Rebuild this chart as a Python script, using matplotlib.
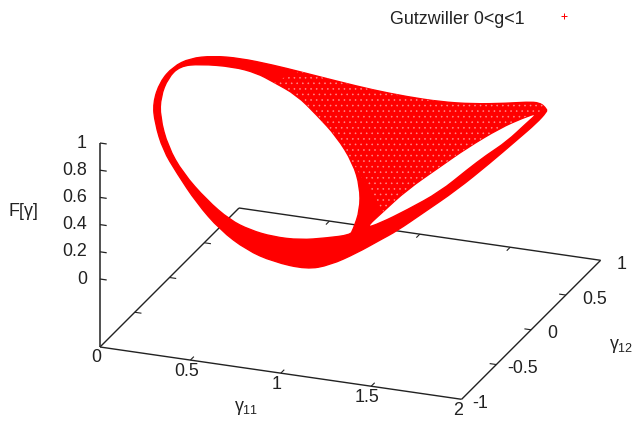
import numpy as np
import matplotlib
matplotlib.use('Agg')
import matplotlib.pyplot as plt
from matplotlib.path import Path
from matplotlib.patches import PathPatch

plt.rcParams['font.family'] = ['Liberation Sans', 'DejaVu Sans']
plt.rcParams['mathtext.fontset'] = 'custom'
plt.rcParams['mathtext.rm'] = 'Liberation Sans'
plt.rcParams['mathtext.it'] = 'Liberation Sans'
plt.rcParams['hatch.linewidth'] = 0.4

# outer edge of the surface
outer_g11 = [1.948, 1.842, 1.703, 1.542, 1.314, 1.116, 0.929, 0.753, 0.593, 0.410, 0.300, 0.175, 0.083, 0.027,
             0.000, 0.013, 0.047, 0.100, 0.189, 0.323, 0.478, 0.638, 0.804, 0.957, 1.139, 1.259, 1.389, 1.498,
             1.572, 1.683, 1.811, 1.923, 1.986, 1.996, 1.971]
outer_g12 = [0.36, 0.54, 0.71, 0.84, 0.95, 0.99, 0.997, 0.97, 0.91, 0.81, 0.71, 0.56, 0.41, 0.225,
             0.05, -0.17, -0.36, -0.47, -0.585, -0.736, -0.853, -0.932, -0.98, -0.999, -0.99, -0.966, -0.92, -0.868,
             -0.82, -0.73, -0.58, -0.39, -0.17, 0.09, 0.30]
outer_F = [0.929, 0.864, 0.755, 0.648, 0.543, 0.501, 0.499, 0.528, 0.587, 0.678, 0.757, 0.860, 0.935, 1.002,
           1.024, 1.029, 0.976, 0.896, 0.773, 0.707, 0.576, 0.449, 0.357, 0.311, 0.285, 0.327, 0.417, 0.507,
           0.563, 0.671, 0.788, 0.911, 0.979, 0.974, 0.944]

# edge of the big opening
hole_g11 = [0.019, 0.053, 0.140, 0.232, 0.322, 0.473, 0.622, 0.771, 0.919, 1.015, 1.073, 1.092, 1.095,
            1.100, 0.972, 0.841, 0.733, 0.642, 0.525, 0.351, 0.203, 0.082, 0.028, 0.011]
hole_g12 = [0.10, 0.30, 0.55, 0.65, 0.65, 0.60, 0.50, 0.40, 0.25, 0.10, -0.05, -0.20, -0.25,
            -0.60, -0.65, -0.70, -0.75, -0.80, -0.83, -0.72, -0.55, -0.35, -0.20, -0.05]
hole_F = [1.007, 0.926, 0.796, 0.716, 0.669, 0.626, 0.559, 0.479, 0.390, 0.311, 0.229, 0.162, 0.151,
          0.309, 0.295, 0.319, 0.374, 0.455, 0.595, 0.704, 0.782, 0.876, 0.937, 0.995]

# edge of the narrow opening near the tip
lens_g11 = [1.925, 1.937, 1.903, 1.869, 1.798, 1.688, 1.543, 1.414, 1.331, 1.354, 1.427, 1.573, 1.682, 1.809, 1.878]
lens_g12 = [0.30, 0.10, -0.10, -0.30, -0.40, -0.50, -0.60, -0.65, -0.65, -0.45, -0.30, -0.20, -0.10, 0.05, 0.20]
lens_F = [0.929, 0.957, 0.915, 0.913, 0.840, 0.710, 0.599, 0.503, 0.450, 0.474, 0.571, 0.719, 0.826, 0.921, 0.932]

x_ticks = [0, 0.5, 1, 1.5, 2]
y_ticks = [-1, -0.5, 0, 0.5, 1]
z_ticks = [0, 0.2, 0.4, 0.6, 0.8, 1]
x_labels = ['0', '0.5', '1', '1.5', '2']
y_labels = ['-1', '-0.5', '0', '0.5', '1']
z_labels = ['0', '0.2', '0.4', '0.6', '0.8', '1']
z_base = -0.5


# gnuplot style fixed view, gives pixel position on the figure
def project(g11, g12, f):
    g11 = np.asarray(g11, dtype=float)
    u = np.asarray(g12, dtype=float) + 1
    f = np.asarray(f, dtype=float)
    sx = 100 + 180.8 * g11 + 69.5 * u
    sy = 279 + 26.15 * g11 - 69.5 * u - 136 * f
    return sx, sy


# closed smooth outline through the midpoints of the read points
def smooth_loop(pts):
    verts = [(pts[-1] + pts[0]) / 2]
    codes = [Path.MOVETO]
    for i in range(len(pts)):
        verts += [pts[i], (pts[i] + pts[(i + 1) % len(pts)]) / 2]
        codes += [Path.CURVE3, Path.CURVE3]
    return verts, codes


fig = plt.figure(figsize=(6.32, 4.21), dpi=100)
ax = fig.add_axes([0, 0, 1, 1])
ax.set_xlim(0, 632)
ax.set_ylim(421, 0)
ax.axis('off')

ink = '#222222'


def line3(a, b, lw=1.0):
    sx, sy = project([a[0], b[0]], [a[1], b[1]], [a[2], b[2]])
    ax.plot(sx, sy, color=ink, lw=lw, solid_capstyle='butt', zorder=1)


# base frame
line3((0, -1, z_base), (2, -1, z_base))
line3((2, -1, z_base), (2, 1, z_base))
line3((2, 1, z_base), (0, 1, z_base))
line3((0, 1, z_base), (0, -1, z_base))
line3((0, -1, z_base), (0, -1, 1), lw=1.1)

for t in x_ticks[1:-1]:
    line3((t, -1, z_base), (t, -0.95, z_base), lw=0.8)
    line3((t, 1, z_base), (t, 0.95, z_base), lw=0.8)
for t in y_ticks[1:-1]:
    line3((0, t, z_base), (0.037, t, z_base), lw=0.8)
    line3((2, t, z_base), (1.963, t, z_base), lw=0.8)
for t in z_ticks:
    line3((0, -1, t), (0.037, -1, t), lw=0.9)

fs = 12.9
for t, lab in zip(x_ticks, x_labels):
    sx, sy = project(t, -1, z_base)
    ax.text(sx - 4, sy + 11, lab, ha='center', va='center', fontsize=fs, color=ink)
for t, lab in zip(y_ticks, y_labels):
    sx, sy = project(2, t, z_base)
    ax.text(sx + (11 if t < 0 else 16), sy + 4, lab, ha='left', va='center', fontsize=fs, color=ink)
for t, lab in zip(z_ticks, z_labels):
    sx, sy = project(0, -1, t)
    ax.text(sx - 13, sy, lab, ha='right', va='center', fontsize=fs, color=ink)

ax.text(246, 408, r'$\gamma_{11}$', ha='center', va='center', fontsize=fs, color=ink)
ax.text(609, 346, r'$\gamma_{12}$', ha='left', va='center', fontsize=fs, color=ink, clip_on=True)
ax.text(23, 212, r'F[$\gamma$]', ha='center', va='center', fontsize=fs, color=ink)

# surface with its two openings
verts = []
codes = []
for g11, g12, f in [(outer_g11, outer_g12, outer_F), (hole_g11, hole_g12, hole_F), (lens_g11, lens_g12, lens_F)]:
    sx, sy = project(g11, g12, f)
    v, c = smooth_loop(np.column_stack([sx, sy]))
    verts += v
    codes += c
ax.add_patch(PathPatch(Path(verts, codes), facecolor='#ff0000', edgecolor='#ff0000', lw=1.0, zorder=3))

# wide part of the surface, marks are loose enough there to see the paper between them
fan_g11 = outer_g11[:10] + hole_g11[4:9] + lens_g11[9:]
fan_g12 = outer_g12[:10] + hole_g12[4:9] + lens_g12[9:]
fan_F = outer_F[:10] + hole_F[4:9] + lens_F[9:]
sx, sy = project(fan_g11, fan_g12, fan_F)
ax.fill(sx, sy, facecolor='none', edgecolor='#ff8c8c', hatch='...', lw=0, zorder=4)

# key
ax.text(390, 19, 'Gutzwiller 0<g<1', ha='left', va='center', fontsize=fs, color=ink)
ax.plot([564], [16], ls='none', marker='+', ms=4.3, mew=0.7, color='#ff0000')

fig.savefig('out.png', dpi=100)
